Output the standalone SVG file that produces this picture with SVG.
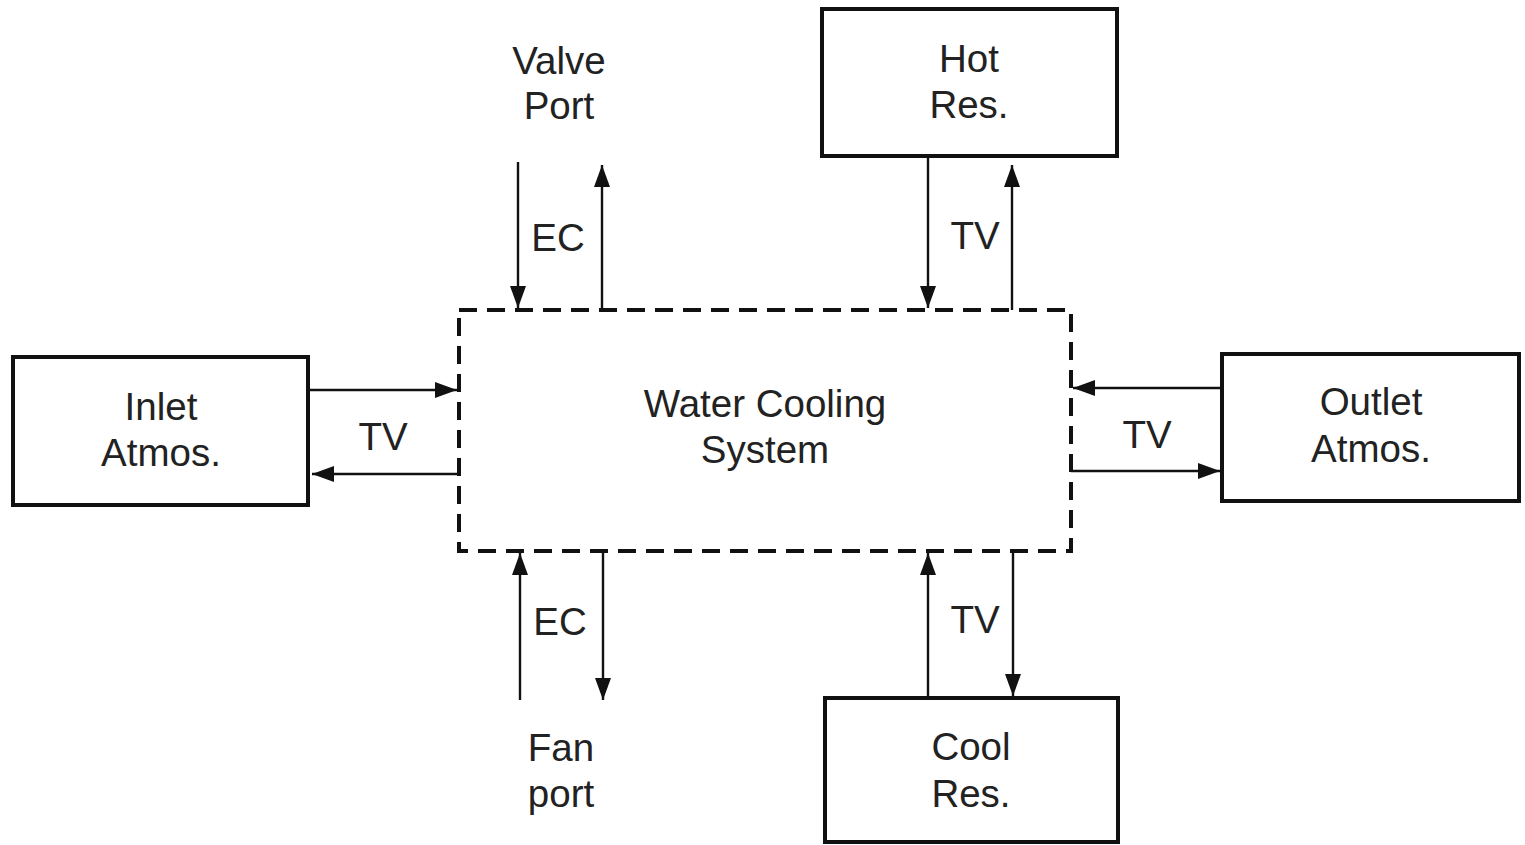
<svg xmlns="http://www.w3.org/2000/svg" width="1525" height="845" viewBox="0 0 1525 845">
<defs>
<marker id="ah" viewBox="0 0 22 16" refX="22" refY="8" markerWidth="22" markerHeight="16" markerUnits="userSpaceOnUse" orient="auto">
<path d="M0,0 L22,8 L0,16 Z" fill="#111"/>
</marker>
<style>
.box{fill:#fff;stroke:#111;stroke-width:4}
.dash{fill:none;stroke:#111;stroke-width:4;stroke-dasharray:18 10}
.t{font-family:"Liberation Sans",Arial,sans-serif;font-size:38.5px;fill:#222;text-anchor:middle}
.c{stroke:#111;stroke-width:2.4;fill:none;marker-end:url(#ah)}
</style>
</defs>
<rect width="1525" height="845" fill="#fff"/>
<g id="system">
<rect class="dash" x="459" y="310" width="612" height="241"/>
<text class="t" x="765" y="417">Water Cooling</text>
<text class="t" x="765" y="463">System</text>
</g>
<g id="valve-port">
<text class="t" x="559" y="74">Valve</text>
<text class="t" x="559" y="119">Port</text>
</g>
<g id="hot-res">
<rect class="box" x="822" y="9" width="295" height="147"/>
<text class="t" x="969" y="72">Hot</text>
<text class="t" x="969" y="118">Res.</text>
</g>
<g id="inlet-atmos">
<rect class="box" x="13" y="357" width="295" height="148"/>
<text class="t" x="161" y="420">Inlet</text>
<text class="t" x="161" y="466">Atmos.</text>
</g>
<g id="outlet-atmos">
<rect class="box" x="1222" y="354" width="297" height="147"/>
<text class="t" x="1371" y="415">Outlet</text>
<text class="t" x="1371" y="462">Atmos.</text>
</g>
<g id="fan-port">
<text class="t" x="561" y="761">Fan</text>
<text class="t" x="561" y="807">port</text>
</g>
<g id="cool-res">
<rect class="box" x="825" y="698" width="293" height="144"/>
<text class="t" x="971" y="760">Cool</text>
<text class="t" x="971" y="807">Res.</text>
</g>
<g id="connectors">
<line class="c" x1="518" y1="162" x2="518" y2="308"/>
<line class="c" x1="602" y1="310" x2="602" y2="165"/>
<text class="t" x="558" y="251">EC</text>
<line class="c" x1="928" y1="156" x2="928" y2="308"/>
<line class="c" x1="1012" y1="310" x2="1012" y2="165"/>
<text class="t" x="975" y="249">TV</text>
<line class="c" x1="308" y1="390" x2="457" y2="390"/>
<line class="c" x1="459" y1="474" x2="312" y2="474"/>
<text class="t" x="383" y="450">TV</text>
<line class="c" x1="1222" y1="388" x2="1073" y2="388"/>
<line class="c" x1="1071" y1="471" x2="1220" y2="471"/>
<text class="t" x="1147" y="448">TV</text>
<line class="c" x1="520" y1="700" x2="520" y2="553"/>
<line class="c" x1="603" y1="551" x2="603" y2="700"/>
<text class="t" x="560" y="635">EC</text>
<line class="c" x1="928" y1="698" x2="928" y2="553"/>
<line class="c" x1="1013" y1="551" x2="1013" y2="696"/>
<text class="t" x="975" y="633">TV</text>
</g>
</svg>
